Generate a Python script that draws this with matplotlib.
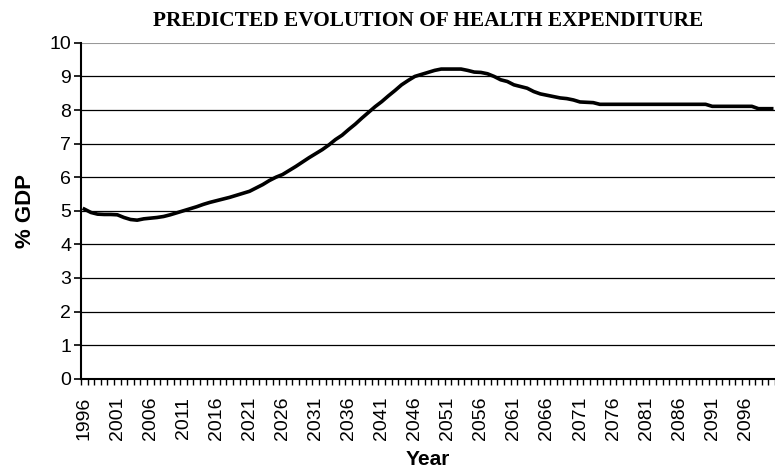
import numpy as np
import matplotlib
matplotlib.use('Agg')
from matplotlib import pyplot as plt

# data (share of GDP per year)
years = list(range(1996, 2101))

gdp_share = [
    5.05, 4.95, 4.90, 4.89, 4.89, 4.88, 4.80, 4.74, 4.72, 4.76,   # 1996-2005
    4.78, 4.80, 4.83, 4.88, 4.94, 5.00, 5.06, 5.12, 5.19, 5.25,   # 2006-2015
    5.30, 5.35, 5.40, 5.46, 5.52, 5.58, 5.68, 5.78, 5.90, 6.00,   # 2016-2025
    6.08, 6.20, 6.32, 6.45, 6.58, 6.70, 6.82, 6.96, 7.12, 7.25,   # 2026-2035
    7.42, 7.58, 7.76, 7.93, 8.10, 8.25, 8.42, 8.58, 8.75, 8.88,   # 2036-2045
    9.00, 9.06, 9.12, 9.18, 9.22, 9.22, 9.22, 9.22, 9.18, 9.13,   # 2046-2055
    9.12, 9.08, 9.00, 8.90, 8.85, 8.75, 8.70, 8.65, 8.55, 8.48,   # 2056-2065
    8.44, 8.40, 8.36, 8.34, 8.30, 8.24, 8.23, 8.22, 8.17, 8.17,   # 2066-2075
    8.17, 8.17, 8.17, 8.17, 8.17, 8.17, 8.17, 8.17, 8.17, 8.17,   # 2076-2085
    8.17, 8.17, 8.17, 8.17, 8.17, 8.11, 8.11, 8.11, 8.11, 8.11,   # 2086-2095
    8.11, 8.11, 8.04, 8.04, 8.04,                                 # 2096-2100
]

tick_years = years[::5]
y_ticks = list(range(0, 11))

TITLE = 'PREDICTED EVOLUTION OF HEALTH EXPENDITURE'

plt.rcParams['font.family'] = ['Liberation Sans', 'DejaVu Sans']

fig = plt.figure(figsize=(7.75, 4.71), dpi=100)
ax = fig.add_axes([0.1045, 0.196, 0.8955, 0.713])

# horizontal grid (top one is grey like the plot-area border)
for v in y_ticks[1:-1]:
    ax.axhline(v, color='black', lw=0.9, zorder=1)
ax.axhline(y_ticks[-1], color='#999999', lw=1.5, zorder=1)

ax.plot(years, gdp_share, color='black', lw=2.6, zorder=3,
        solid_joinstyle='round')

ax.set_xlim(years[0] - 0.5, years[-1] + 0.5)
ax.set_ylim(0, 10)

ax.set_yticks(y_ticks)
ax.tick_params(axis='y', direction='out', length=5, width=1.2,
               labelsize=14, pad=2)

# labels every 5 years, tick marks between every category
ax.set_xticks(tick_years)
ax.set_xticklabels([str(y) for y in tick_years], rotation=90)
ax.set_xticks(np.arange(years[0] - 0.5, years[-1] + 1), minor=True)
ax.tick_params(axis='x', which='major', length=0, labelsize=14, pad=13)
ax.tick_params(axis='x', which='minor', direction='out', length=4, width=1)

for s in ['top', 'right']:
    ax.spines[s].set_visible(False)
ax.spines['left'].set_linewidth(1.5)
ax.spines['bottom'].set_linewidth(1.5)

ax.set_title(TITLE, family='Liberation Serif', fontweight='bold',
             fontsize=15.4, pad=12)
ax.set_ylabel('% GDP', fontweight='bold', fontsize=16, labelpad=10)
ax.set_xlabel('Year', fontweight='bold', fontsize=15, labelpad=7)

fig.savefig('out.png', dpi=100)
